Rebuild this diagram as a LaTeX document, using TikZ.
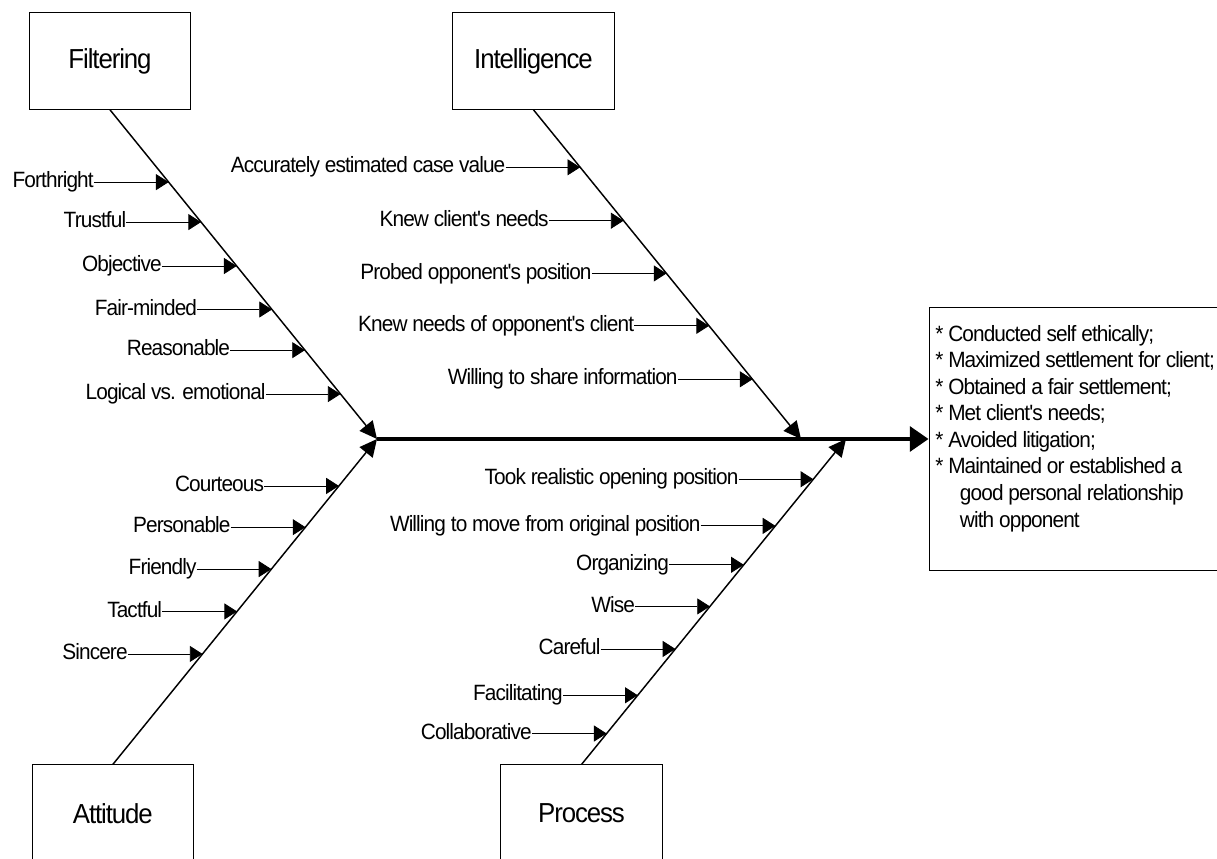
\documentclass[tikz,border=0pt]{standalone}
\usepackage{fontspec}
\setmainfont{Liberation Sans}[FakeStretch=0.94, LetterSpace=-4, Ligatures=TeXOff]
\usetikzlibrary{arrows.meta,calc}
\tikzset{
  catbox/.style={draw, line width=0.75pt, minimum width=121pt, minimum height=72.5pt, inner sep=0pt, font=\fontsize{20.6pt}{24pt}\selectfont},
  lab/.style={inner sep=0pt, anchor=east, text height=12pt, text depth=3.5pt, font=\fontsize{16.6pt}{19.8pt}\selectfont},
  sub/.style={line width=0.6pt, -{Triangle[length=9.5pt,width=12pt]}},
  bone/.style={line width=1.1pt, -{Triangle[length=13pt,width=12.5pt]}},
  spine/.style={line width=3pt, -{Triangle[length=14pt,width=18.5pt]}},
  result/.style={draw, line width=0.75pt, minimum width=220pt, minimum height=197.4pt, inner sep=0pt},
  restext/.style={inner sep=0pt, anchor=north west, align=left, font=\fontsize{16.6pt}{19.9pt}\selectfont},
}
\begin{document}
\begin{tikzpicture}[x=0.75pt,y=-0.75pt]
\useasboundingbox (0,0) rectangle (1217,859);
% category boxes
\node[catbox] (F) at (110,61) {Filtering};
\node[catbox] (I) at (533.5,61) {Intelligence};
\node[catbox] (A) at (112.8,813.3) {Attitude};
\node[catbox] (P) at (581.5,813.3) {Process};
% result box
\node[result] (R) at (1075.7,439) {};
\node[restext] (Rt) at (935,325) {* Conducted self ethically;\\
* Maximized settlement for client;\\
* Obtained a fair settlement;\\
* Met client's needs;\\
* Avoided litigation;\\
* Maintained or established a\\
\hspace*{18.5pt}good personal relationship\\
\hspace*{18.5pt}with opponent};
% spine
\coordinate (s0) at (377,439);
\coordinate (ti) at (801,439);
\coordinate (tp) at (846,439);
\draw[spine] (s0) -- (R.west);
% bones
\draw[bone] (F.south) -- (s0);
\draw[bone] (A.north) -- (s0);
\draw[bone] (I.south) -- (ti);
\draw[bone] (P.north) -- (tp);
% Filtering causes
\foreach \t/\txt/\n in {0.2196/Forthright/1, 0.341/Trustful/2, 0.4744/Objective/3, 0.6066/Fair-minded/4, 0.7301/Reasonable/5, 0.8635/Logical vs. emotional/6}{
  \coordinate (f\n) at ($(F.south)!\t!(s0)$);
  \node[lab] (fl\n) at ([xshift=-56pt]f\n) {\txt};
  \draw[sub] (fl\n.east) -- (f\n);
}
% Intelligence causes
\foreach \t/\txt/\n in {0.1746/Accurately estimated case value/1, 0.3368/Knew client's needs/2, 0.4971/Probed opponent's position/3, 0.6562/Knew needs of opponent's client/4, 0.8187/Willing to share information/5}{
  \coordinate (i\n) at ($(I.south)!\t!(ti)$);
  \node[lab] (il\n) at ([xshift=-56pt]i\n) {\txt};
  \draw[sub] (il\n.east) -- (i\n);
}
% Attitude causes
\foreach \t/\txt/\n in {0.8558/Courteous/1, 0.7291/Personable/2, 0.6003/Friendly/3, 0.4702/Tactful/4, 0.3396/Sincere/5}{
  \coordinate (a\n) at ($(A.north)!\t!(s0)$);
  \node[lab] (al\n) at ([xshift=-56pt]a\n) {\txt};
  \draw[sub] (al\n.east) -- (a\n);
}
% Process causes
\foreach \t/\txt/\n in {0.8764/Took realistic opening position/1, 0.7331/Willing to move from original position/2, 0.6135/Organizing/3, 0.4856/Wise/4, 0.3549/Careful/5, 0.2126/Facilitating/6, 0.0951/Collaborative/7}{
  \coordinate (p\n) at ($(P.north)!\t!(tp)$);
  \node[lab] (pl\n) at ([xshift=-56pt]p\n) {\txt};
  \draw[sub] (pl\n.east) -- (p\n);
}
\end{tikzpicture}
\end{document}
